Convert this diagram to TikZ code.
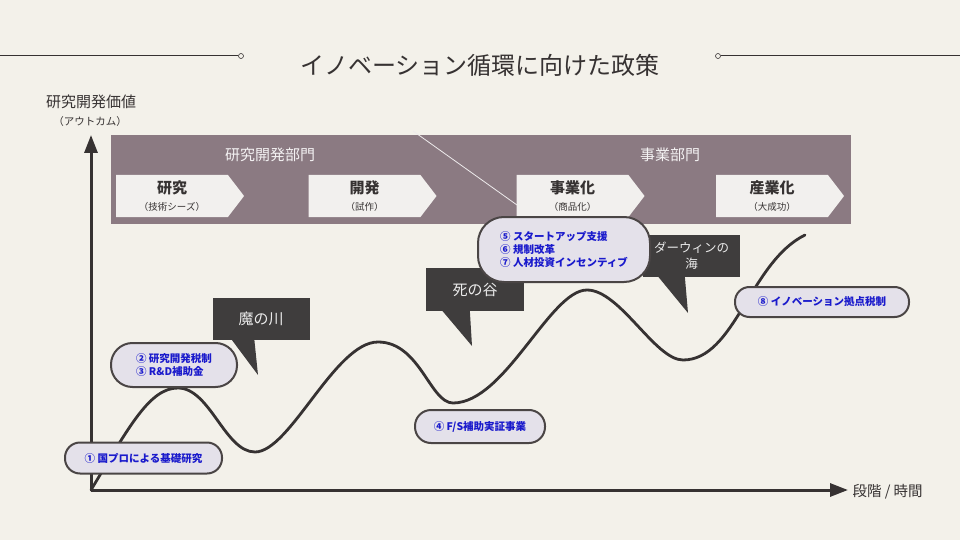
\documentclass[tikz,border=0pt]{standalone}
\usepackage{fontspec}
\setmainfont{Noto Sans CJK JP}
\usetikzlibrary{arrows.meta,shapes.symbols,calc}

\definecolor{bgc}{HTML}{F3F1EA}
\definecolor{bandc}{HTML}{8B7A82}
\definecolor{chevc}{HTML}{F2F0EE}
\definecolor{gapc}{HTML}{3F3D3D}
\definecolor{pillc}{HTML}{E4E1EA}
\definecolor{pilld}{HTML}{4A4545}
\definecolor{bluec}{HTML}{1A1ACC}
\definecolor{inkc}{HTML}{363232}

\begin{document}
\begin{tikzpicture}[x=1pt, y=-1pt,
    axis/.style={line width=3pt, draw=inkc, -{Triangle[length=18pt,width=13pt]}},
    phase/.style={signal, signal to=east, signal pointer angle=105, fill=chevc,
        minimum width=128pt, minimum height=42pt, inner sep=0pt, align=center,
        text=inkc, font=\fontsize{9.5}{17}\selectfont},
    gap/.style={fill=gapc, text=white!92!black, minimum width=97pt,
        minimum height=42pt, inner sep=0pt, align=center,
        font=\fontsize{15}{18}\selectfont},
    policy/.style={draw=pilld, line width=2pt, fill=pillc, text=bluec,
        inner sep=0pt, align=left, font=\bfseries\fontsize{10.5}{13}\selectfont},
    bandtext/.style={text=white!90!bandc, font=\fontsize{15}{18}\selectfont}]
    % 背景
    \fill[bgc] (0,0) rectangle (960,540);
    \useasboundingbox (0,0) rectangle (960,540);

    % タイトル
    \node[font=\fontsize{24}{28}\selectfont, text=inkc] (title) at (480,65) {イノベーション循環に向けた政策};
    \node[circle, draw=inkc, fill=bgc, line width=0.6pt, inner sep=0pt, minimum size=5pt] (dotL) at (241,56) {};
    \node[circle, draw=inkc, fill=bgc, line width=0.6pt, inner sep=0pt, minimum size=5pt] (dotR) at (718,56) {};
    \coordinate (lineL) at (0,56);
    \coordinate (lineR) at (960,56);
    \draw[inkc, line width=1pt] (lineL) -- (dotL.west);
    \draw[inkc, line width=1pt] (dotR.east) -- (lineR);

    % 縦軸の見出し
    \node[font=\fontsize{15}{18}\selectfont, text=inkc] (ylab) at (91,102) {研究開発価値};
    \node[font=\fontsize{10.5}{12}\selectfont, text=inkc] (ysub) at (90,122) {（アウトカム）};

    % 部門の帯
    \fill[bandc] (111,135) rectangle (851,224);
    \draw[white!85!bandc, line width=0.8pt] (413,131) -- (517,205);
    \node[bandtext] (rdlab) at (270,155) {研究開発部門};
    \node[bandtext] (bizlab) at (670,155) {事業部門};

    % 段階
    \node[phase] (res) at (172,196) {{\bfseries\fontsize{15}{17}\selectfont 研究}\\（技術シーズ）};
    \node[phase] (dev) at (364.5,196) {{\bfseries\fontsize{15}{17}\selectfont 開発}\\（試作）};
    \node[phase] (biz) at (572.5,196) {{\bfseries\fontsize{15}{17}\selectfont 事業化}\\（商品化）};
    \node[phase] (ind) at (772,196) {{\bfseries\fontsize{15}{17}\selectfont 産業化}\\（大成功）};

    % 軸
    \coordinate (O) at (91,490);
    \coordinate (ytop) at (91,135);
    \coordinate (xend) at (848,490);
    \draw[axis] (O) -- (ytop);
    \draw[axis] (O) -- (xend);
    \node[anchor=west, font=\fontsize{14.5}{17}\selectfont, text=inkc] (xlab) at (849,492) {段階 / 時間};

    % 価値の曲線
    \draw[inkc, line width=2.8pt, line cap=round]
        (O) .. controls (130,425) and (150,388) .. (178,388)
            .. controls (210,388) and (225,452) .. (255,452)
            .. controls (290,452) and (335,342) .. (378,342)
            .. controls (420,342) and (430,403) .. (453,403)
            .. controls (505,403) and (550,290) .. (587,290)
            .. controls (620,290) and (655,360) .. (683,360)
            .. controls (735,360) and (750,262) .. (805,235);

    % 吹き出し
    \node[gap] (river) at (261,319) {魔の川};
    \coordinate (riverTip) at (258,375);
    \fill[gapc] ($(river.south west)+(19,-1)$) -- (riverTip) -- ($(river.south west)+(42,-1)$) -- cycle;

    \node[gap, minimum width=98pt, minimum height=43pt] (valley) at (475,289.5) {死の谷};
    \coordinate (valleyTip) at (472,346);
    \fill[gapc] ($(valley.south west)+(16,-1)$) -- (valleyTip) -- ($(valley.south west)+(44,-1)$) -- cycle;

    \node[gap, font=\fontsize{12.5}{16}\selectfont] (sea) at (691.5,256) {ダーウィンの\\海};
    \coordinate (seaTip) at (688,313);
    \fill[gapc] ($(sea.south west)+(15,-1)$) -- (seaTip) -- ($(sea.south west)+(42,-1)$) -- cycle;

    % 政策
    \node[policy, minimum width=157pt, minimum height=31pt, rounded corners=15pt] (p1) at (143.5,458) {① 国プロによる基礎研究};
    \node[policy, minimum width=126pt, minimum height=44pt, rounded corners=21.5pt] (p2) at (174,365) {② 研究開発税制\\③ R\&D補助金};
    \node[policy, minimum width=130pt, minimum height=33pt, rounded corners=16pt] (p4) at (480,426.5) {④ F/S補助実証事業};
    \node[policy, minimum width=172pt, minimum height=65pt, rounded corners=26pt] (p5) at (564,249.5) {⑤ スタートアップ支援\\⑥ 規制改革\\⑦ 人材投資インセンティブ};
    \node[policy, minimum width=174pt, minimum height=30pt, rounded corners=14.5pt] (p8) at (822,302) {⑧ イノベーション拠点税制};
\end{tikzpicture}
\end{document}
